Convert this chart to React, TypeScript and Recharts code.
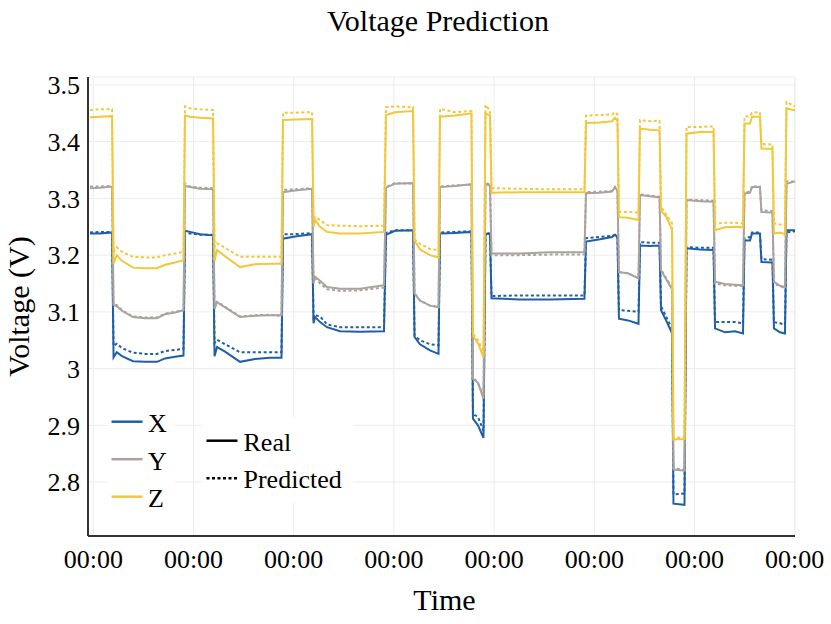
import { LineChart, Line, XAxis, YAxis, CartesianGrid } from "recharts";

const FONT = "'Liberation Serif', 'Times New Roman', serif";

const BLUE = "#1f5fa6";
const GREY = "#aaa29e";
const YELLOW = "#f1c83b";

// time axis: one tick every 100 units, every tick reads "00:00"
const TIME_TICKS = [0, 100, 200, 300, 400, 500, 600, 700];
const VOLT_TICKS = [2.8, 2.9, 3.0, 3.1, 3.2, 3.3, 3.4, 3.5];

const TIME = [
  -3.3, 6.7, 18.7, 20.2, 23.4, 28.6, 39.6, 51.6, 63.6, 71.6, 81.5, 90.0,
  91.5, 96.5, 106.5, 119.5, 121.0, 123.5, 131.5, 146.4, 161.4, 176.3, 187.8,
  189.3, 201.3, 218.3, 219.8, 221.3, 226.3, 233.2, 246.2, 266.2, 290.1,
  292.1, 301.1, 319.1, 320.6, 326.0, 336.0, 344.5, 346.0, 361.0, 377.4,
  378.9, 383.9, 389.4, 391.4, 395.9, 397.4, 425.8, 455.8, 490.2, 491.7,
  505.7, 517.7, 520.7, 523.1, 524.6, 533.6, 544.1, 545.6, 555.6, 565.1,
  566.6, 571.6, 577.6, 579.0, 590.0, 592.0, 605.5, 619.0, 620.5, 630.5,
  640.5, 648.4, 649.9, 655.4, 657.4, 665.3, 666.8, 677.8, 679.3, 685.3,
  690.3, 691.8, 700.3,
];

const Z_REAL = [
  3.443, 3.444, 3.445, 3.185, 3.2, 3.19, 3.178, 3.177, 3.177, 3.183, 3.187, 3.191,
  3.446, 3.444, 3.442, 3.441, 3.19, 3.209, 3.198, 3.179, 3.184, 3.185, 3.185,
  3.438, 3.439, 3.44, 3.25, 3.262, 3.25, 3.241, 3.238, 3.238, 3.241,
  3.447, 3.452, 3.454, 3.226, 3.21, 3.2, 3.196, 3.444, 3.446, 3.45,
  3.058, 3.045, 3.02, 3.45, 3.446, 3.31, 3.311, 3.311, 3.311, 3.433,
  3.434, 3.436, 3.442, 3.436, 3.267, 3.266, 3.262, 3.423, 3.421, 3.42,
  3.279, 3.268, 3.245, 2.875, 2.876, 3.414, 3.417, 3.417, 3.244, 3.249,
  3.25, 3.249, 3.432, 3.432, 3.444, 3.444, 3.388, 3.387, 3.238, 3.24,
  3.237, 3.459, 3.455,
];

const Z_PRED = [
  3.456, 3.457, 3.457, 3.205, 3.214, 3.206, 3.197, 3.196, 3.196, 3.2, 3.203, 3.206,
  3.462, 3.459, 3.457, 3.456, 3.215, 3.221, 3.213, 3.197, 3.197, 3.197, 3.197,
  3.451, 3.451, 3.452, 3.26, 3.267, 3.262, 3.253, 3.252, 3.251, 3.252,
  3.461, 3.462, 3.461, 3.228, 3.22, 3.211, 3.209, 3.458, 3.452, 3.454,
  3.062, 3.05, 3.03, 3.465, 3.455, 3.318, 3.317, 3.316, 3.316, 3.446,
  3.447, 3.448, 3.452, 3.448, 3.276, 3.276, 3.275, 3.438, 3.436, 3.437,
  3.285, 3.272, 3.256, 2.878, 2.879, 3.426, 3.426, 3.427, 3.256, 3.257,
  3.257, 3.256, 3.444, 3.445, 3.451, 3.452, 3.396, 3.395, 3.256, 3.254,
  3.253, 3.47, 3.462,
];

const Y_REAL = [
  3.318, 3.319, 3.321, 3.112, 3.11, 3.102, 3.091, 3.089, 3.089, 3.096, 3.099, 3.103,
  3.322, 3.32, 3.317, 3.316, 3.105, 3.117, 3.108, 3.091, 3.093, 3.094, 3.094,
  3.311, 3.314, 3.317, 3.15, 3.162, 3.155, 3.144, 3.141, 3.141, 3.147,
  3.319, 3.326, 3.327, 3.132, 3.12, 3.111, 3.108, 3.32, 3.322, 3.325,
  2.982, 2.975, 2.947, 3.326, 3.322, 3.203, 3.203, 3.205, 3.205, 3.309,
  3.31, 3.312, 3.32, 3.313, 3.17, 3.168, 3.159, 3.306, 3.304, 3.302,
  3.173, 3.158, 3.14, 2.822, 2.82, 3.297, 3.295, 3.294, 3.153, 3.149,
  3.148, 3.147, 3.309, 3.31, 3.32, 3.32, 3.276, 3.275, 3.153, 3.146,
  3.144, 3.326, 3.33,
];

const Y_PRED = [
  3.321, 3.321, 3.322, 3.112, 3.112, 3.103, 3.092, 3.09, 3.09, 3.097, 3.1, 3.103,
  3.326, 3.321, 3.319, 3.318, 3.108, 3.118, 3.109, 3.092, 3.094, 3.095, 3.093,
  3.315, 3.316, 3.318, 3.152, 3.16, 3.15, 3.14, 3.137, 3.138, 3.143,
  3.32, 3.327, 3.326, 3.133, 3.12, 3.111, 3.109, 3.321, 3.323, 3.324,
  2.985, 2.975, 2.95, 3.328, 3.324, 3.2, 3.2, 3.201, 3.201, 3.311,
  3.312, 3.313, 3.32, 3.313, 3.17, 3.168, 3.16, 3.307, 3.305, 3.303,
  3.175, 3.16, 3.142, 2.824, 2.822, 3.298, 3.297, 3.296, 3.15, 3.147,
  3.146, 3.145, 3.31, 3.312, 3.321, 3.321, 3.279, 3.278, 3.15, 3.145,
  3.142, 3.33, 3.33,
];

const X_REAL = [
  3.238, 3.238, 3.24, 3.02, 3.029, 3.022, 3.013, 3.012, 3.012, 3.018, 3.021, 3.023,
  3.243, 3.241, 3.237, 3.235, 3.022, 3.038, 3.03, 3.012, 3.017, 3.019, 3.019,
  3.229, 3.233, 3.237, 3.08, 3.091, 3.082, 3.073, 3.066, 3.065, 3.066,
  3.236, 3.243, 3.244, 3.056, 3.043, 3.032, 3.026, 3.238, 3.239, 3.241,
  2.912, 2.9, 2.878, 3.238, 3.237, 3.124, 3.122, 3.122, 3.123, 3.224,
  3.228, 3.232, 3.236, 3.232, 3.088, 3.085, 3.079, 3.217, 3.216, 3.217,
  3.103, 3.085, 3.062, 2.762, 2.76, 3.212, 3.21, 3.209, 3.071, 3.064,
  3.066, 3.062, 3.226, 3.226, 3.238, 3.238, 3.188, 3.187, 3.071, 3.064,
  3.062, 3.244, 3.244,
];

const X_PRED = [
  3.24, 3.241, 3.241, 3.04, 3.044, 3.036, 3.028, 3.026, 3.026, 3.031, 3.033, 3.035,
  3.24, 3.238, 3.236, 3.236, 3.045, 3.051, 3.043, 3.029, 3.029, 3.029, 3.029,
  3.237, 3.237, 3.239, 3.09, 3.094, 3.092, 3.078, 3.073, 3.073, 3.073,
  3.239, 3.244, 3.244, 3.058, 3.05, 3.043, 3.041, 3.24, 3.241, 3.242,
  2.92, 2.915, 2.89, 3.24, 3.238, 3.128, 3.129, 3.129, 3.129, 3.23,
  3.232, 3.234, 3.236, 3.234, 3.103, 3.102, 3.1, 3.223, 3.222, 3.222,
  3.11, 3.092, 3.07, 2.778, 2.78, 3.214, 3.213, 3.213, 3.082, 3.082,
  3.082, 3.08, 3.23, 3.232, 3.24, 3.24, 3.193, 3.192, 3.082, 3.08,
  3.077, 3.24, 3.242,
];

const data = TIME.map((t, i) => ({
  t,
  xr: X_REAL[i],
  xp: X_PRED[i],
  yr: Y_REAL[i],
  yp: Y_PRED[i],
  zr: Z_REAL[i],
  zp: Z_PRED[i],
}));

const SERIES = [
  { key: "xr", color: BLUE, dashed: false },
  { key: "xp", color: BLUE, dashed: true },
  { key: "yr", color: GREY, dashed: false },
  { key: "yp", color: GREY, dashed: true },
  { key: "zr", color: YELLOW, dashed: false },
  { key: "zp", color: YELLOW, dashed: true },
];

const AXIS_LEGEND = [
  { name: "X", color: BLUE },
  { name: "Y", color: GREY },
  { name: "Z", color: YELLOW },
];

const STYLE_LEGEND = [
  { name: "Real", dash: undefined },
  { name: "Predicted", dash: "3 2.5" },
];

const YLabel = ({ viewBox }: any) => {
  const cx = viewBox.x + 28.5;
  const cy = viewBox.y + viewBox.height / 2;
  return (
    <text
      x={cx}
      y={cy}
      transform={`rotate(-90 ${cx} ${cy})`}
      textAnchor="middle"
      fontSize={30}
      fill="#000"
    >
      Voltage (V)
    </text>
  );
};

const XLabel = ({ viewBox }: any) => (
  <text
    x={viewBox.x + viewBox.width / 2 + 3}
    y={610}
    textAnchor="middle"
    fontSize={30}
    fill="#000"
  >
    Time
  </text>
);

export default function App() {
  return (
    <div
      style={{
        position: "absolute",
        left: 0,
        top: 0,
        width: 831,
        height: 624,
        background: "#fff",
        fontFamily: FONT,
      }}
    >
      <LineChart
        width={831}
        height={624}
        data={data}
        margin={{ top: 77, right: 36, left: 0, bottom: 0 }}
      >
        <CartesianGrid stroke="#ececec" strokeWidth={1} />
        <XAxis
          dataKey="t"
          type="number"
          domain={[-5.3, 700.3]}
          ticks={TIME_TICKS}
          tickFormatter={() => "00:00"}
          interval={0}
          height={88}
          tickLine={false}
          tickMargin={8}
          axisLine={{ stroke: "#333", strokeWidth: 2 }}
          tick={{ fill: "#000", fontSize: 26 }}
          label={<XLabel />}
        />
        <YAxis
          type="number"
          domain={[2.705, 3.514]}
          ticks={VOLT_TICKS}
          allowDataOverflow
          tickFormatter={(v: number) => (v === 3 ? "3" : v.toFixed(1))}
          width={88}
          tickLine={false}
          axisLine={{ stroke: "#333", strokeWidth: 2 }}
          tick={{ fill: "#000", fontSize: 26 }}
          label={<YLabel />}
        />
        {SERIES.map((s) => (
          <Line
            key={s.key}
            dataKey={s.key}
            type="linear"
            stroke={s.color}
            strokeWidth={2}
            strokeDasharray={s.dashed ? "3 2.5" : undefined}
            dot={false}
            activeDot={false}
            isAnimationActive={false}
          />
        ))}
      </LineChart>

      <svg
        width={831}
        height={624}
        style={{ position: "absolute", left: 0, top: 0, pointerEvents: "none" }}
      >
        <text x={438} y={31} textAnchor="middle" fontSize={30} fill="#000">
          Voltage Prediction
        </text>

        <rect x={108} y={404} width={67} height={112} fill="#fff" />
        {AXIS_LEGEND.map((item, i) => {
          const cy = 421.7 + i * 37.5;
          return (
            <g key={item.name}>
              <line x1={111.5} x2={142.5} y1={cy} y2={cy} stroke={item.color} strokeWidth={2.5} />
              <text x={148} y={cy + 10.5} fontSize={26} fill="#000">
                {item.name}
              </text>
            </g>
          );
        })}

        <rect x={202} y={417} width={151} height={86} fill="#fff" />
        {STYLE_LEGEND.map((item, i) => {
          const cy = 440.7 + i * 37.6;
          return (
            <g key={item.name}>
              <line
                x1={206.5}
                x2={237.5}
                y1={cy}
                y2={cy}
                stroke="#000"
                strokeWidth={2.5}
                strokeDasharray={item.dash}
              />
              <text x={243.5} y={cy + 9.8} fontSize={26} fill="#000">
                {item.name}
              </text>
            </g>
          );
        })}
      </svg>
    </div>
  );
}
